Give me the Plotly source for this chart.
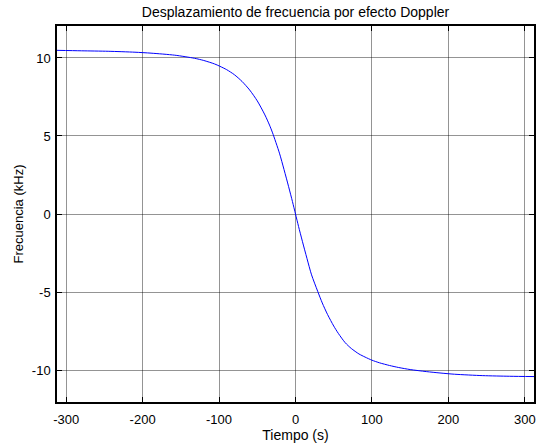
import plotly.graph_objects as go

tiempo = [-312, -280, -245, -210, -189, -158, -132, -120, -106, -99, -90, -80, -70,
          -60, -50, -40, -34, -30, -21, -15, -9, -4, 0, 4, 9, 15, 21, 29, 35,
          42, 50, 56, 65, 73, 83, 91, 100, 110, 123, 135, 150, 171, 189, 208, 245,
          280, 312]
frecuencia = [10.49, 10.46, 10.43, 10.37, 10.31, 10.18, 9.98, 9.84, 9.62, 9.47, 9.25,
              8.93, 8.50, 7.95, 7.25, 6.35, 5.70, 5.20, 3.90, 2.85, 1.75, 0.80, 0.0,
              -0.80, -1.75, -2.85, -3.90, -4.95, -5.70, -6.45, -7.18, -7.65,
              -8.25, -8.62, -8.97, -9.17, -9.37, -9.54, -9.71, -9.84, -9.97, -10.10,
              -10.19, -10.27, -10.36, -10.40, -10.42]
xticks = [-300, -200, -100, 0, 100, 200, 300]
yticks = [-10, -5, 0, 5, 10]

font = "Liberation Sans, Arial, sans-serif"

fig = go.Figure()
fig.add_trace(go.Scatter(x=tiempo, y=frecuencia, mode="lines",
                         line=dict(color="#0000ff", width=1, shape="spline", smoothing=0.7),
                         showlegend=False))

axis_common = dict(
    showline=True, linecolor="black", linewidth=1.5, mirror="allticks",
    ticks="inside", ticklen=5, tickcolor="black", tickwidth=1,
    showgrid=True, gridcolor="rgba(0,0,0,0.42)", gridwidth=1,
    zeroline=False, tickfont=dict(family=font, size=13, color="black"),
    automargin=False,
)

fig.update_layout(
    width=536, height=443,
    margin=dict(l=57, r=2, t=26, b=41),
    paper_bgcolor="white", plot_bgcolor="white",
    title=dict(text="Desplazamiento de frecuencia por efecto Doppler",
               font=dict(family=font, size=14, color="black"),
               x=(57 + 534) / 2 / 536, xref="container", y=1 - 12 / 443, yref="container",
               xanchor="center", yanchor="middle"),
    xaxis=dict(range=[-312, 312], tickvals=xticks, ticktext=[str(v) for v in xticks],
               ticklabelstandoff=5,
               title=dict(text="Tiempo (s)", font=dict(family=font, size=14, color="black"),
                          standoff=0),
               **axis_common),
    yaxis=dict(range=[-12.05, 12.05], tickvals=yticks, ticktext=[str(v) for v in yticks],
               ticklabelstandoff=2,
               title=dict(text="Frecuencia (kHz)", font=dict(family=font, size=13, color="black"),
                          standoff=5),
               **axis_common),
)

fig.write_html("out.html")
